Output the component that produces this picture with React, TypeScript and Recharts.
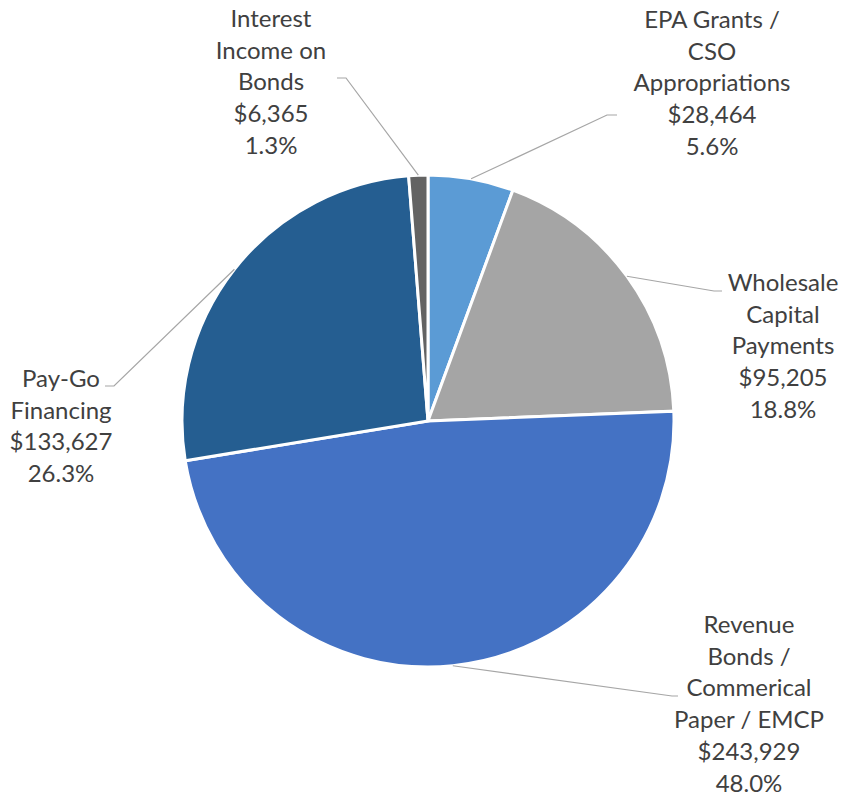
import React from "react"
import { PieChart, Pie, Cell } from "recharts"

// slices, clockwise from 12 o'clock
const categories = [
    "EPA Grants / CSO Appropriations",
    "Wholesale Capital Payments",
    "Revenue Bonds / Commerical Paper / EMCP",
    "Pay-Go Financing",
    "Interest Income on Bonds",
]
const labelLines = [
    ["EPA Grants /", "CSO", "Appropriations"],
    ["Wholesale", "Capital", "Payments"],
    ["Revenue", "Bonds /", "Commerical", "Paper / EMCP"],
    ["Pay-Go", "Financing"],
    ["Interest", "Income on", "Bonds"],
]
const values = [28464, 95205, 243929, 133627, 6365]
const percents = ["5.6%", "18.8%", "48.0%", "26.3%", "1.3%"]
const colors = ["#5B9BD5", "#A5A5A5", "#4472C4", "#255E91", "#636363"]

// label placement (elbow of leader line, end of leader line, text centre x, first baseline)
const labelLayout = [
    { elbow: [607, 115], end: [617, 115], tx: 712, ty: 28 },
    { elbow: [714, 291], end: [722, 291], tx: 783, ty: 291 },
    { elbow: [672, 696], end: [678, 696], tx: 749, ty: 633 },
    { elbow: [114, 386], end: [105, 386], tx: 61, ty: 387 },
    { elbow: [346, 78], end: [337, 78], tx: 271, ty: 27 },
]

const RAD = Math.PI / 180
const LINE_H = 31.7

const data = categories.map((name, i) => ({ name, value: values[i] }))

const fmtMoney = (v: number) => "$" + v.toLocaleString("en-US")

function renderLabel(props: any) {
    const { cx, cy, midAngle, outerRadius, index } = props
    const sx = cx + outerRadius * Math.cos(-midAngle * RAD)
    const sy = cy + outerRadius * Math.sin(-midAngle * RAD)
    const lay = labelLayout[index]
    const lines = [...labelLines[index], fmtMoney(values[index]), percents[index]]
    return (
        <g key={`lbl-${index}`}>
            <polyline
                points={`${sx},${sy} ${lay.elbow[0]},${lay.elbow[1]} ${lay.end[0]},${lay.end[1]}`}
                fill="none"
                stroke="#A6A6A6"
                strokeWidth={1.2}
            />
            <text
                x={lay.tx}
                y={lay.ty}
                textAnchor="middle"
                fill="#404040"
                fontSize={24}
                fontFamily="Lato, 'Open Sans', sans-serif"
            >
                {lines.map((l, j) => (
                    <tspan key={j} x={lay.tx} y={lay.ty + j * LINE_H}>{l}</tspan>
                ))}
            </text>
        </g>
    )
}

export default function App() {
    return (
        <div style={{ position: "absolute", left: 0, top: 0, width: 848, height: 796, background: "#fff" }}>
            <PieChart width={848} height={796} margin={{ top: 0, right: 0, bottom: 0, left: 0 }}>
                <Pie
                    data={data}
                    dataKey="value"
                    nameKey="name"
                    cx={428}
                    cy={421}
                    outerRadius={246}
                    startAngle={90}
                    endAngle={-270}
                    stroke="#ffffff"
                    strokeWidth={3}
                    label={renderLabel}
                    labelLine={false}
                    isAnimationActive={false}
                >
                    {data.map((d, i) => (
                        <Cell key={d.name} fill={colors[i]} />
                    ))}
                </Pie>
            </PieChart>
        </div>
    )
}
